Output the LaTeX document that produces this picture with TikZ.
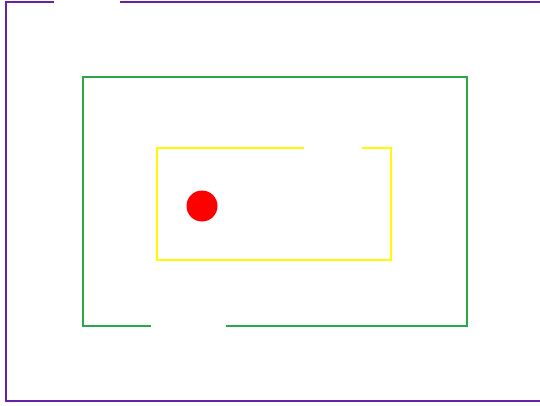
\documentclass[tikz,border=0pt]{standalone}
\usepackage{tikz}
\definecolor{wallpurple}{RGB}{102,34,170}
\definecolor{wallgreen}{RGB}{40,168,72}
\definecolor{wallyellow}{RGB}{255,250,0}
\definecolor{ballred}{RGB}{255,0,0}

\begin{document}
\begin{tikzpicture}[x=1pt, y=-1pt,
    outerwall/.style={draw=wallpurple, line width=2.8pt},
    midwall/.style={draw=wallgreen, line width=2.6pt},
    innerwall/.style={draw=wallyellow, line width=2.6pt},
    ball/.style={circle, fill=ballred, inner sep=0pt, minimum size=31pt}]
    \useasboundingbox (0,0) rectangle (540,406);
    % outer wall, opening at the top left
    \draw[outerwall] (54,2) -- (6,2) -- (6,401) -- (540,401);
    \draw[outerwall] (120,2) -- (540,2);
    % middle wall, opening at the bottom
    \draw[midwall] (151,326) -- (83,326) -- (83,77) -- (467,77) -- (467,326) -- (226,326);
    % inner wall, opening at the top right
    \draw[innerwall] (304,148) -- (157,148) -- (157,260) -- (391,260) -- (391,148) -- (362,148);
    \node[ball] (dot) at (202,206) {};
\end{tikzpicture}
\end{document}
